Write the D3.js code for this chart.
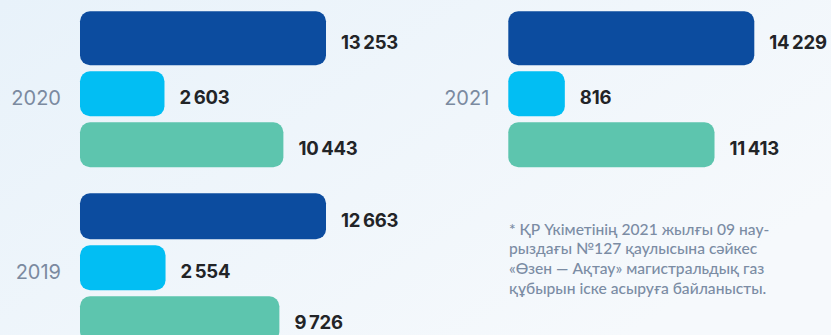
<!DOCTYPE html>
<html>
<head>
<meta charset="utf-8">
<script src="https://cdn.jsdelivr.net/npm/d3@7"></script>
<style>
  html, body { margin: 0; padding: 0; background: #eef5fb; }
  svg { display: block; }
</style>
</head>
<body>
<svg id="chart" width="831" height="335"></svg>
<script>
// Years shown, one panel each
const years = [2020, 2021, 2019];
// Three indicators per year (dark blue, light blue, teal)
const seriesA = [13253, 14229, 12663];
const seriesB = [2603, 816, 2554];
const seriesC = [10443, 11413, 9726];
const colors = ["#0c4c9f", "#02bef3", "#5dc5ae"];
const footnote = [
  "* ҚР Үкіметінің 2021 жылғы 09 нау-",
  "рыздағы №127 қаулысына сәйкес",
  "«Өзен — Ақтау» магистральдық газ",
  "құбырын іске асыруға байланысты."
];

const W = 831, H = 335;
const svg = d3.select("#chart");

// soft background wash
const defs = svg.append("defs");
const bg = defs.append("linearGradient").attr("id", "bg")
  .attr("x1", "0").attr("y1", "0").attr("x2", "1").attr("y2", "0.6");
bg.append("stop").attr("offset", "0").attr("stop-color", "#e8f2fa");
bg.append("stop").attr("offset", "1").attr("stop-color", "#f6f9fc");
svg.append("rect").attr("width", W).attr("height", H).attr("fill", "url(#bg)");

// panel placement: left edge of bars, top of first bar, height of the first bar
const panels = [
  { x0: 80,    top: 11.3,  firstH: 54 },
  { x0: 508.3, top: 11.3,  firstH: 54 },
  { x0: 80,    top: 193.3, firstH: 46 }
];
const barH = 45, gap = 6, fullW = 246, baseW = 45, radius = 10;

const fmt = v => d3.format(",")(v).replace(/,/g, "\u2009");

years.forEach((year, i) => {
  const p = panels[i];
  const vals = [seriesA[i], seriesB[i], seriesC[i]];
  const x = d3.scaleLinear().domain([0, d3.max(vals)]).range([baseW, fullW]);

  const heights = [p.firstH, barH, barH];
  const tops = [p.top];
  tops.push(tops[0] + heights[0] + gap);
  tops.push(tops[1] + heights[1] + gap);

  const g = svg.append("g");
  vals.forEach((v, j) => {
    const w = x(v);
    g.append("rect")
      .attr("x", p.x0).attr("y", tops[j])
      .attr("width", w).attr("height", heights[j])
      .attr("rx", radius).attr("ry", radius)
      .attr("fill", colors[j]);
    g.append("text")
      .attr("x", p.x0 + w + 15)
      .attr("y", tops[j] + heights[j] / 2 + 10.3)
      .attr("font-family", "Inter, 'Open Sans', sans-serif")
      .attr("font-weight", 700)
      .attr("font-size", 18.5)
      .attr("letter-spacing", "-0.2")
      .attr("fill", "#222427")
      .text(fmt(v));
  });

  g.append("text")
    .attr("x", p.x0 - 19)
    .attr("y", tops[1] + barH - 11)
    .attr("text-anchor", "end")
    .attr("font-family", "Inter, 'Open Sans', sans-serif")
    .attr("font-weight", 400)
    .attr("font-size", 20)
    .attr("fill", "#7b8aa0")
    .text(year);
});

// footnote
const fn = svg.append("text")
  .attr("font-family", "Lato, 'Open Sans', sans-serif")
  .attr("font-size", 15.6)
  .attr("font-weight", 500)
  .attr("fill", "#7b8ca4");
footnote.forEach((line, k) => {
  fn.append("tspan").attr("x", 509).attr("y", 234.5 + k * 19.9).text(line);
});
</script>
</body>
</html>
